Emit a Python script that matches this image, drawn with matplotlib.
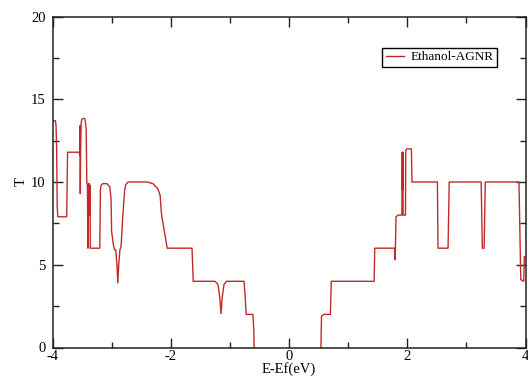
## imports

import numpy as np
import matplotlib
matplotlib.use('Agg')
import matplotlib.pyplot as plt
from matplotlib.ticker import MultipleLocator

## data

label = 'Ethanol-AGNR'

# transmission, negative energy side
energy_neg = [-4.00, -3.95, -3.94, -3.93, -3.92, -3.91, -3.76, -3.745, -3.55, -3.54,
              -3.535, -3.53, -3.525, -3.515, -3.50, -3.47, -3.45, -3.43, -3.42, -3.41,
              -3.40, -3.39, -3.38, -3.37, -3.365, -3.36, -3.20, -3.19, -3.18, -3.15,
              -3.08, -3.03, -3.01, -3.00, -2.97, -2.95, -2.93, -2.91, -2.895, -2.88,
              -2.86, -2.84, -2.81, -2.78, -2.76, -2.72, -2.40, -2.30, -2.22, -2.18,
              -2.16, -2.15, -2.06, -1.64, -1.62, -1.25, -1.20, -1.17, -1.15, -1.13,
              -1.10, -1.06, -0.76, -0.74, -0.725, -0.61, -0.595, -0.59]
trans_neg = [13.7, 13.7, 13.4, 12.0, 8.5, 7.9, 7.9, 11.8, 11.8, 11.6,
             13.4, 9.3, 11.8, 13.6, 13.8, 13.85, 13.8, 13.2, 10.0, 9.8,
             6.0, 9.9, 9.9, 8.0, 9.8, 6.0, 6.0, 9.5, 9.8, 9.9,
             9.9, 9.7, 9.0, 7.0, 6.2, 5.9, 5.9, 5.0, 3.9, 5.0,
             5.9, 6.1, 8.0, 9.5, 9.85, 10.0, 10.0, 9.9, 9.6, 9.2,
             8.2, 7.9, 6.0, 6.0, 4.0, 4.0, 3.8, 3.0, 2.05, 3.0,
             3.8, 4.0, 4.0, 3.0, 2.0, 2.0, 1.0, 0.0]

# transmission, positive energy side (T = 0 in the gap between)
energy_pos = [0.54, 0.55, 0.59, 0.70, 0.715, 1.44, 1.45, 1.79, 1.795, 1.80,
              1.81, 1.845, 1.91, 1.915, 1.92, 1.925, 1.93, 1.97, 1.975, 1.99,
              2.07, 2.08, 2.51, 2.52, 2.69, 2.70, 2.71, 3.25, 3.27, 3.30,
              3.32, 3.89, 3.90, 3.92, 3.97, 3.98, 4.00]
trans_pos = [0.0, 1.9, 2.0, 2.0, 4.0, 4.0, 6.0, 6.0, 5.3, 6.0,
             7.9, 8.0, 8.0, 11.8, 9.5, 11.8, 8.0, 8.0, 11.9, 12.0,
             12.0, 10.0, 10.0, 6.0, 6.0, 8.0, 10.0, 10.0, 6.0, 6.0,
             10.0, 10.0, 8.0, 4.1, 4.0, 5.5, 5.5]

## plotting

plt.rcParams['font.family'] = ['Liberation Serif', 'DejaVu Serif']
plt.rcParams['axes.unicode_minus'] = False

fig = plt.figure(figsize=(5.28, 3.78), dpi=100)
ax = fig.add_axes([52.5 / 528, 1 - 347.5 / 378, 473 / 528, 331 / 378])

line_color = '#c22a2a'
ax.plot(energy_neg, trans_neg, color=line_color, lw=1.0, label=label)
ax.plot(energy_pos, trans_pos, color=line_color, lw=1.0)

ax.set_xlim(-4, 4)
ax.set_ylim(0, 20)
ax.xaxis.set_major_locator(MultipleLocator(2))
ax.xaxis.set_minor_locator(MultipleLocator(1))
ax.yaxis.set_major_locator(MultipleLocator(5))
ax.yaxis.set_minor_locator(MultipleLocator(2.5))
ax.tick_params(which='both', direction='in', top=True, right=True,
               labelsize=10.5, color='#222222')
ax.tick_params(which='major', length=7, width=1.0)
ax.tick_params(axis='x', which='major', pad=2)
ax.tick_params(axis='y', which='major', pad=5)
ax.tick_params(which='minor', length=4, width=1.0)
for s in ax.spines.values():
    s.set_linewidth(1.1)
    s.set_color('#222222')

ax.set_xlabel('E-Ef(eV)', fontsize=10.5, labelpad=-1)
ax.set_ylabel('T', fontsize=10.5, labelpad=2)

leg = ax.legend(loc='upper right', bbox_to_anchor=(0.94, 0.905), borderaxespad=0,
                fancybox=False, framealpha=1, edgecolor='black', fontsize=9.5,
                handlelength=1.4, handletextpad=0.5, borderpad=0.25)
leg.get_frame().set_linewidth(1.0)

fig.savefig('out.png', dpi=100)
